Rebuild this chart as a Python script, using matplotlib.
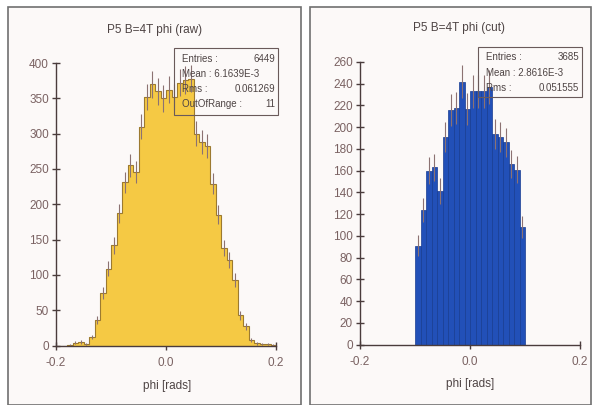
import numpy as np
import matplotlib.pyplot as plt
from matplotlib.patches import Rectangle

plt.rcParams['font.family'] = ['Liberation Sans', 'DejaVu Sans']

# phi histograms, 0.01 rad bins
raw_edges = np.round(np.arange(-0.2, 0.2001, 0.01), 3)
raw_counts = np.array([0, 0, 1, 4, 5, 2, 12, 36, 74, 109,
                       142, 187, 231, 255, 246, 310, 352, 370, 360, 350,
                       362, 352, 372, 376, 378, 300, 288, 282, 229, 185,
                       138, 121, 93, 43, 27, 8, 3, 2, 2, 1])
cut_edges = np.round(np.arange(-0.1, 0.1001, 0.01), 3)
cut_counts = np.array([91, 124, 160, 163, 141, 191, 216, 218, 242, 217,
                       233, 233, 233, 237, 194, 191, 186, 166, 161, 108])

raw_stats = [('Entries :', '6449'), ('Mean : 6.1639E-3', ''),
             ('Rms :', '0.061269'), ('OutOfRange :', '11')]
cut_stats = [('Entries :', '3685'), ('Mean : 2.8616E-3', ''),
             ('Rms :', '0.051555')]

W, H = 593, 405
fig = plt.figure(figsize=(W / 100, H / 100), dpi=100)
fig.patch.set_facecolor('white')

def fx(x):
    return x / W

def fy(y):
    return 1 - y / H

panel_bg = '#fcf9f8'
frame_col = '#707070'
axis_col = '#4a3c3c'
label_col = '#7a6262'
err_col = '#8c7272'
text_col = '#4e4444'

# panel frames
for x0, x1 in [(8, 301), (310, 591)]:
    fig.patches.append(Rectangle((fx(x0), 0), fx(x1) - fx(x0), fy(7),
                                 transform=fig.transFigure, facecolor=panel_bg,
                                 edgecolor=frame_col, linewidth=1.2, zorder=-5))


def draw_hist(rect, edges, counts, color, edge, yticks, ymax, bin_lines):
    ax = fig.add_axes(rect)
    ax.set_zorder(1)
    ax.patch.set_alpha(0)
    if bin_lines:
        ax.bar(edges[:-1], counts, width=0.01, align='edge', color=color,
               edgecolor=edge, linewidth=0.5, zorder=2)
    else:
        ax.stairs(counts, edges, fill=True, color=color, zorder=2)
        ax.stairs(counts, edges, color=edge, linewidth=0.8, zorder=2)
    centers = edges[:-1] + 0.005
    err = np.sqrt(counts)
    m = counts > 0
    ax.vlines(centers[m], (counts - err)[m], (counts + err)[m],
              color=err_col, linewidth=0.8, zorder=3)
    ax.set_xlim(-0.2, 0.2)
    ax.set_ylim(0, ymax)
    ax.set_xticks([-0.2, 0.0, 0.2])
    ax.set_xticklabels(['-0.2', '0.0', '0.2'])
    ax.set_yticks(yticks)
    for s in ['top', 'right']:
        ax.spines[s].set_visible(False)
    for s in ['left', 'bottom']:
        ax.spines[s].set_color(axis_col)
        ax.spines[s].set_linewidth(1.0)
        ax.spines[s].set_zorder(4)
    ax.tick_params(direction='inout', length=6, width=1.0, color=axis_col,
                   labelcolor=label_col, labelsize=8.5, pad=2)
    ax.tick_params(axis='x', pad=5)
    return ax


draw_hist([fx(56), fy(345.5), fx(276) - fx(56), fy(63) - fy(345.5)],
          raw_edges, raw_counts, '#f5c944', '#9c7a30',
          np.arange(0, 401, 50), 400, False)
draw_hist([fx(360), fy(344.5), fx(580) - fx(360), fy(62) - fy(344.5)],
          cut_edges, cut_counts, '#2250b8', '#173c92',
          np.arange(0, 261, 20), 260, True)

# titles and axis labels
fig.text(fx(155), fy(30), 'P5 B=4T phi (raw)', ha='center', va='center',
         fontsize=8.5, color=text_col)
fig.text(fx(459), fy(28), 'P5 B=4T phi (cut)', ha='center', va='center',
         fontsize=8.5, color=text_col)
fig.text(fx(167), fy(386), 'phi [rads]', ha='center', va='center',
         fontsize=8.5, color=text_col)
fig.text(fx(470), fy(384), 'phi [rads]', ha='center', va='center',
         fontsize=8.5, color=text_col)


def stats_box(x0, y0, x1, y1, rows, row_y):
    fig.patches.append(Rectangle((fx(x0), fy(y1)), fx(x1) - fx(x0),
                                 fy(y0) - fy(y1), transform=fig.transFigure,
                                 facecolor='none', edgecolor='#6a5a5a',
                                 linewidth=0.8, zorder=5))
    for (left, right), y in zip(rows, row_y):
        fig.text(fx(x0 + 8), fy(y), left, ha='left', va='center',
                 fontsize=7, color=text_col, zorder=6)
        if right:
            fig.text(fx(x1 - 3), fy(y), right, ha='right', va='center',
                     fontsize=7, color=text_col, zorder=6)


stats_box(174, 48, 278, 115, raw_stats, [59, 74, 89, 104])
stats_box(478, 47, 582, 97, cut_stats, [57, 73, 88])

fig.savefig('out.png', dpi=100)
